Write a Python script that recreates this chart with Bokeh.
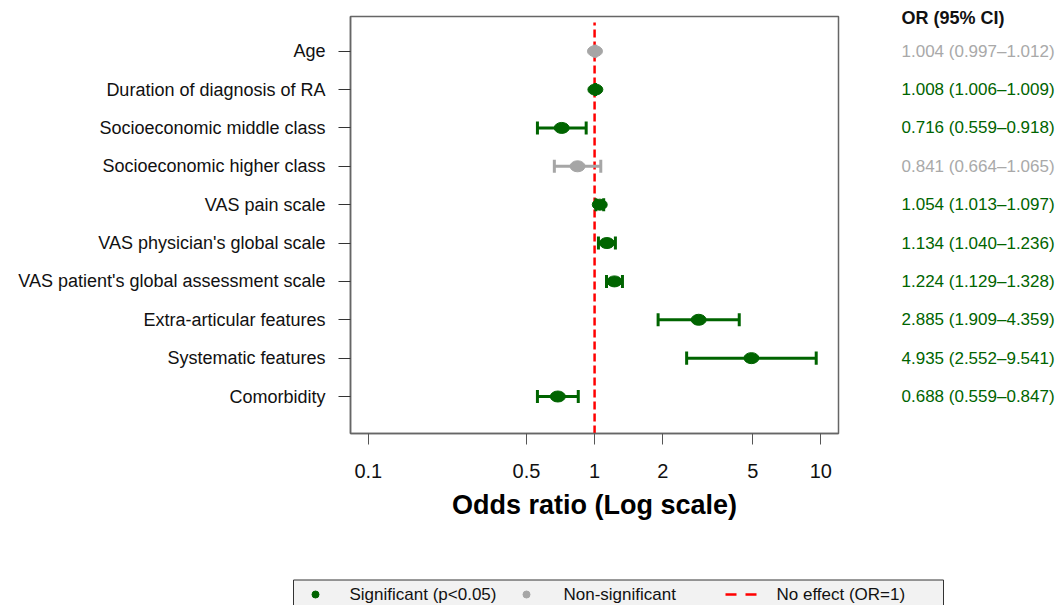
from bokeh.plotting import figure
from bokeh.models import Range1d, FixedTicker, ColumnDataSource
from bokeh.layouts import column, row
from bokeh.embed import file_html
from bokeh.resources import INLINE
from bokeh.core.properties import value

# ---------------- data ----------------
variables = [
    "Age",
    "Duration of diagnosis of RA",
    "Socioeconomic middle class",
    "Socioeconomic higher class",
    "VAS pain scale",
    "VAS physician's global scale",
    "VAS patient's global assessment scale",
    "Extra-articular features",
    "Systematic features",
    "Comorbidity",
]
odds_ratio = [1.004, 1.008, 0.716, 0.841, 1.054, 1.134, 1.224, 2.885, 4.935, 0.688]
ci_lower = [0.997, 1.006, 0.559, 0.664, 1.013, 1.040, 1.129, 1.909, 2.552, 0.559]
ci_upper = [1.012, 1.009, 0.918, 1.065, 1.097, 1.236, 1.328, 4.359, 9.541, 0.847]
significant = [False, True, True, False, True, True, True, True, True, True]

x_ticks = [0.1, 0.5, 1, 2, 5, 10]
x_tick_labels = ["0.1", "0.5", "1", "2", "5", "10"]
NO_EFFECT = 1.0

legend_labels = ["Significant (p<0.05)", "Non-significant", "No effect (OR=1)"]
header_text = "OR (95% CI)"
x_title = "Odds ratio (Log scale)"

# ---------------- style ----------------
GREEN = "#006400"
GRAY = "#A6A6A6"
GRAY_TXT = "#A9A9A9"
FONT = "Liberation Sans"
FRAME = "#666666"

n = len(variables)
ypos = [n - i for i in range(n)]
CAP = 0.17
colors = [GREEN if s else GRAY for s in significant]
text_colors = [GREEN if s else GRAY_TXT for s in significant]
or_texts = [f"{o:.3f} ({l:.3f}\u2013{h:.3f})"
            for o, l, h in zip(odds_ratio, ci_lower, ci_upper)]

src = ColumnDataSource(dict(
    y=ypos, orr=odds_ratio, lo=ci_lower, hi=ci_upper, color=colors,
    ylo=[y - CAP for y in ypos], yhi=[y + CAP for y in ypos],
))

# ---------------- main forest plot ----------------
Y0, Y1 = 0.036, 10.904
TOP, FRAME_H, BOTTOM = 16, 417, 127
W1, H1 = 880, TOP + FRAME_H + BOTTOM
p = figure(width=W1, height=H1, x_axis_type="log",
           x_range=Range1d(0.0834, 11.97), y_range=Range1d(Y0, Y1),
           output_backend="svg", toolbar_location=None,
           min_border_left=350, min_border_right=W1 - 350 - 488,
           min_border_top=TOP, min_border_bottom=BOTTOM, frame_align=False)
p.outline_line_color = FRAME
p.outline_line_width = 1.5
p.xgrid.visible = False
p.ygrid.visible = False

# y axis
p.yaxis.ticker = FixedTicker(ticks=ypos)
p.yaxis.major_label_overrides = {y: name for y, name in zip(ypos, variables)}
p.yaxis.major_tick_in = 0
p.yaxis.major_tick_out = 12
p.yaxis.major_label_standoff = 13
p.yaxis.major_label_text_font = FONT
p.yaxis.major_label_text_font_size = "18px"
p.yaxis.major_label_text_color = "#111111"
p.yaxis.axis_line_color = FRAME
p.yaxis.axis_line_width = 1.5
p.yaxis.major_tick_line_color = "#333333"
p.yaxis.minor_tick_line_color = None

# x axis
p.xaxis.ticker = FixedTicker(ticks=x_ticks)
p.xaxis.major_label_overrides = {t: s for t, s in zip(x_ticks, x_tick_labels)}
p.xaxis.major_tick_in = 0
p.xaxis.major_tick_out = 11
p.xaxis.major_label_standoff = 19
p.xaxis.major_label_text_font = FONT
p.xaxis.major_label_text_font_size = "20px"
p.xaxis.major_label_text_color = "#111111"
p.xaxis.axis_line_color = FRAME
p.xaxis.axis_line_width = 1.5
p.xaxis.major_tick_line_color = "#555555"
p.xaxis.minor_tick_line_color = None
p.xaxis.axis_label = x_title
p.xaxis.axis_label_text_font = FONT
p.xaxis.axis_label_text_font_size = "27px"
p.xaxis.axis_label_text_font_style = "bold"
p.xaxis.axis_label_text_color = "#000000"
p.xaxis.axis_label_standoff = 9

# reference line (OR = 1)
p.segment(x0=[NO_EFFECT], y0=[Y0], x1=[NO_EFFECT], y1=[10.75],
          line_color="#FF0000", line_width=2.5, line_dash="8 4")

# confidence intervals
p.segment(x0="lo", y0="y", x1="hi", y1="y", source=src,
          line_color="color", line_width=3)
p.segment(x0="lo", y0="ylo", x1="lo", y1="yhi", source=src,
          line_color="color", line_width=3)
p.segment(x0="hi", y0="ylo", x1="hi", y1="yhi", source=src,
          line_color="color", line_width=3)

# point estimates
p.ellipse(x="orr", y="y", width=15, height=11, width_units="screen",
          height_units="screen", source=src, fill_color="color",
          line_color="color")

# ---------------- OR (95% CI) column ----------------
W2 = 1060 - W1
px_per_unit = FRAME_H / (Y1 - Y0)
r = figure(width=W2, height=H1, x_range=Range1d(W1, 1060),
           y_range=Range1d(Y0, Y1 + TOP / px_per_unit),
           output_backend="svg", toolbar_location=None,
           min_border_left=0, min_border_right=0, min_border_top=0,
           min_border_bottom=BOTTOM, frame_align=False,
           x_axis_location=None, y_axis_location=None)
r.outline_line_color = None
r.grid.visible = False
OR_TEXT_X = 901
r.text(x=[OR_TEXT_X], y=[10.852], text=[header_text],
       text_font=value(FONT), text_font_size="18px", text_font_style="bold",
       text_color="#111111", text_baseline="middle", text_align="left")
r.text(x=[OR_TEXT_X] * n, y=ypos, text=or_texts, text_color=text_colors,
       text_font=value(FONT), text_font_size="17px",
       text_baseline="middle", text_align="left")

# ---------------- legend strip ----------------
H3 = 605 - H1
lg = figure(width=1060, height=H3, x_range=Range1d(0, 1060),
            y_range=Range1d(605, H1), output_backend="svg",
            toolbar_location=None, min_border=0, frame_align=False,
            x_axis_location=None, y_axis_location=None)
lg.outline_line_color = None
lg.grid.visible = False
lg.quad(left=[293], right=[943], top=[579.5], bottom=[640],
        fill_color="#F2F2F2", line_color="#333333", line_width=1)
LY = 594
lg.scatter(x=[315], y=[LY], size=7, fill_color=GREEN, line_color=GREEN)
lg.scatter(x=[526], y=[LY], size=7, fill_color=GRAY, line_color=GRAY)
lg.segment(x0=[725], y0=[LY], x1=[756], y1=[LY], line_color="#FF0000",
           line_width=2.5, line_dash="11 9")
lg.text(x=[349, 563, 776], y=[LY] * 3, text=legend_labels,
        text_font=value(FONT), text_font_size="17px", text_color="#111111",
        text_baseline="middle", text_align="left")

layout = column(row(p, r, spacing=0), lg, spacing=0)
open("out.html", "w").write(file_html(layout, INLINE))
